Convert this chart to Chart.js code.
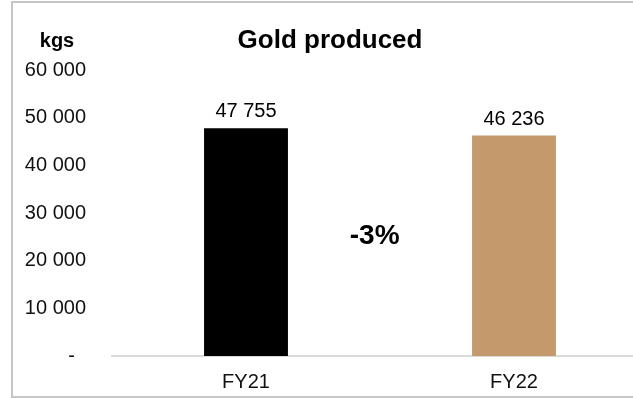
<!DOCTYPE html>
<html lang="en">
<head>
  <meta charset="UTF-8" />
  <title>Gold produced</title>
  <script src="https://cdn.jsdelivr.net/npm/chart.js"></script>
  <style>
    html, body { margin: 0; padding: 0; background: #fff; overflow: hidden; width: 633px; height: 398px; }
    #frame {
      position: absolute;
      left: 11px;
      top: 1px;
      width: 700px;
      height: 393px;
      border: 2px solid #c6c6c6;
      box-sizing: content-box;
    }
    #chart { position: absolute; left: 0; top: 0; }
  </style>
</head>
<body>
  <div id="frame"></div>
  <canvas id="chart" width="660" height="398"></canvas>

  <script>
    // years and kilograms of gold produced
    const years = ['FY21', 'FY22'];
    const goldKgs = [47755, 46236];
    const barColors = ['#000000', '#c49a6c'];
    const yTicks = ['-  ', '10 000', '20 000', '30 000', '40 000', '50 000', '60 000'];

    const FONT = '"Liberation Sans", Arial, sans-serif';

    const fmt = v => v.toLocaleString('en-US').replace(/,/g, ' ');

    // title, unit, value labels and the year-on-year change
    const textPlugin = {
      id: 'texts',
      afterDatasetsDraw(chart) {
        const ctx = chart.ctx;
        const xs = chart.scales.x, ys = chart.scales.y;
        ctx.save();
        ctx.fillStyle = '#000';
        ctx.textAlign = 'center';
        ctx.textBaseline = 'alphabetic';

        ctx.font = 'bold 26px ' + FONT;
        ctx.fillText('Gold produced', 330, 48);

        ctx.font = 'bold 20px ' + FONT;
        ctx.fillText('kgs', 57, 47);

        ctx.font = '20px ' + FONT;
        chart.getDatasetMeta(0).data.forEach((bar, i) => {
          ctx.fillText(fmt(goldKgs[i]), bar.x, bar.y - 11);
        });

        const change = Math.round((goldKgs[1] - goldKgs[0]) / goldKgs[0] * 100);
        ctx.font = 'bold 28px ' + FONT;
        ctx.fillText(change + '%', xs.getPixelForValue(0.48), ys.getPixelForValue(23600));
        ctx.restore();
      }
    };

    new Chart(document.getElementById('chart'), {
      type: 'bar',
      data: {
        labels: years,
        datasets: [{
          data: goldKgs,
          backgroundColor: barColors,
          barPercentage: 1,
          categoryPercentage: 0.313
        }]
      },
      options: {
        responsive: false,
        animation: false,
        devicePixelRatio: 1,
        layout: { padding: { top: 70, right: 12, bottom: 0, left: 0 } },
        plugins: {
          legend: { display: false },
          tooltip: { enabled: false }
        },
        scales: {
          x: {
            grid: { display: false, drawTicks: false },
            border: { color: '#d9d9d9', width: 2 },
            ticks: { color: '#111', font: { family: FONT, size: 20 }, padding: 14 },
            afterFit: s => { s.height = 42; }
          },
          y: {
            min: 0,
            max: 60000,
            grid: { display: false, drawTicks: false },
            border: { display: false },
            ticks: {
              stepSize: 10000,
              color: '#111',
              font: { family: FONT, size: 20 },
              padding: 26,
              callback: (v, i) => yTicks[i]
            },
            afterFit: s => { s.width = 112; }
          }
        }
      },
      plugins: [textPlugin]
    });
  </script>
</body>
</html>
